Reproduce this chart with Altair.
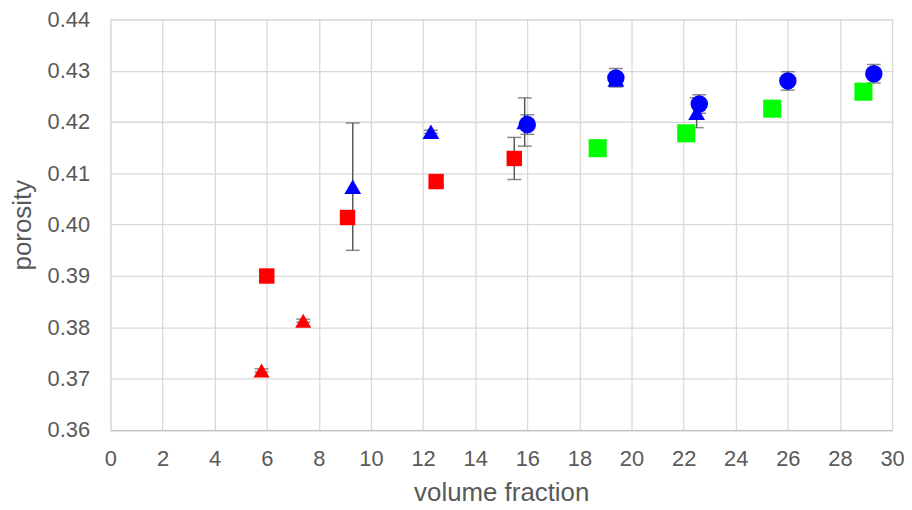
import altair as alt
import pandas as pd

# Series data
red_sq_x = [6.0, 9.1, 12.5, 15.5]
red_sq_y = [0.3900, 0.4014, 0.4084, 0.4129]
red_sq_e = [0.0003, 0.0003, 0.0003, 0.0041]

red_tri_x = [5.8, 7.4]
red_tri_y = [0.3716, 0.3813]
red_tri_e = [0.0003, 0.0003]

blue_tri_x = [9.3, 12.3, 15.9, 19.4, 22.5]
blue_tri_y = [0.4074, 0.4181, 0.4200, 0.4283, 0.4218]
blue_tri_e = [0.0124, 0.0003, 0.0047, 0.0003, 0.0029]

blue_cir_x = [16.0, 19.4, 22.6, 26.0, 29.3]
blue_cir_y = [0.4195, 0.4286, 0.4235, 0.4280, 0.4294]
blue_cir_e = [0.0019, 0.0018, 0.0018, 0.0018, 0.0018]

green_sq_x = [18.7, 22.1, 25.4, 28.9]
green_sq_y = [0.4149, 0.4178, 0.4226, 0.4259]

x_ticks = list(range(0, 31, 2))
y_ticks = [0.36, 0.37, 0.38, 0.39, 0.40, 0.41, 0.42, 0.43, 0.44]

series = [
    ("red square", red_sq_x, red_sq_y, red_sq_e),
    ("red triangle", red_tri_x, red_tri_y, red_tri_e),
    ("blue triangle", blue_tri_x, blue_tri_y, blue_tri_e),
    ("blue circle", blue_cir_x, blue_cir_y, blue_cir_e),
    ("green square", green_sq_x, green_sq_y, [None] * len(green_sq_x)),
]
rows = []
for name, xs, ys, es in series:
    for x, y, e in zip(xs, ys, es):
        rows.append({"s": name, "x": x, "y": y,
                     "lo": (y - e) if e is not None else None,
                     "hi": (y + e) if e is not None else None})
df = pd.DataFrame(rows)
err = df.dropna(subset=["lo"])

names = [s[0] for s in series]
colors = ["#FF0000", "#FF0000", "#0000FF", "#0000FF", "#00FF00"]
shapes = ["square", "triangle-up", "triangle-up", "circle", "square"]
sizes = [240, 330, 330, 290, 240]

FONT = "Liberation Sans, Arial, sans-serif"

xscale = alt.Scale(domain=[0, 30], nice=False, zero=False)
yscale = alt.Scale(domain=[0.36, 0.44], nice=False, zero=False)

xaxis = alt.Axis(values=x_ticks, title="volume fraction", grid=True, gridColor="#D9D9D9",
                 gridWidth=1.3, domainColor="#BFBFBF", domainWidth=1.3, ticks=False,
                 labelFont=FONT, labelFontSize=22, labelColor="#595959",
                 labelPadding=19, titleFont=FONT, titleFontSize=26,
                 titleFontWeight="normal", titleColor="#595959", titlePadding=10, labelFlush=False)
yaxis = alt.Axis(values=y_ticks, format=".2f", title="porosity", grid=True, gridColor="#D9D9D9",
                 gridWidth=1.3, domain=False, ticks=False, labelFont=FONT,
                 labelFontSize=22, labelColor="#595959", labelPadding=21,
                 titleFont=FONT, titleFontSize=26, titleFontWeight="normal",
                 titleColor="#595959", titlePadding=12)

rules = alt.Chart(err).mark_rule(color="#595959", strokeWidth=1.5).encode(
    x=alt.X("x:Q", scale=xscale, axis=xaxis),
    y=alt.Y("lo:Q", scale=yscale, axis=yaxis),
    y2="hi:Q",
)
cap_lo = alt.Chart(err).mark_tick(color="#595959", orient="horizontal", size=14, thickness=1.5).encode(
    x=alt.X("x:Q", scale=xscale), y=alt.Y("lo:Q", scale=yscale))
cap_hi = alt.Chart(err).mark_tick(color="#595959", orient="horizontal", size=14, thickness=1.5).encode(
    x=alt.X("x:Q", scale=xscale), y=alt.Y("hi:Q", scale=yscale))

points = alt.Chart(df).mark_point(filled=True, opacity=1).encode(
    x=alt.X("x:Q", scale=xscale),
    y=alt.Y("y:Q", scale=yscale),
    color=alt.Color("s:N", scale=alt.Scale(domain=names, range=colors), legend=None),
    shape=alt.Shape("s:N", scale=alt.Scale(domain=names, range=shapes), legend=None),
    size=alt.Size("s:N", scale=alt.Scale(domain=names, range=sizes), legend=None),
)

chart = alt.layer(rules, cap_lo, cap_hi, points).properties(
    width=786, height=413,
    autosize=alt.AutoSizeParams(type="none"),
    padding={"left": 103, "top": 10, "right": 12, "bottom": 75},
).configure_view(stroke=None).configure(background="white")

chart.save("out.html", embed_options={"renderer": "svg", "actions": False})
